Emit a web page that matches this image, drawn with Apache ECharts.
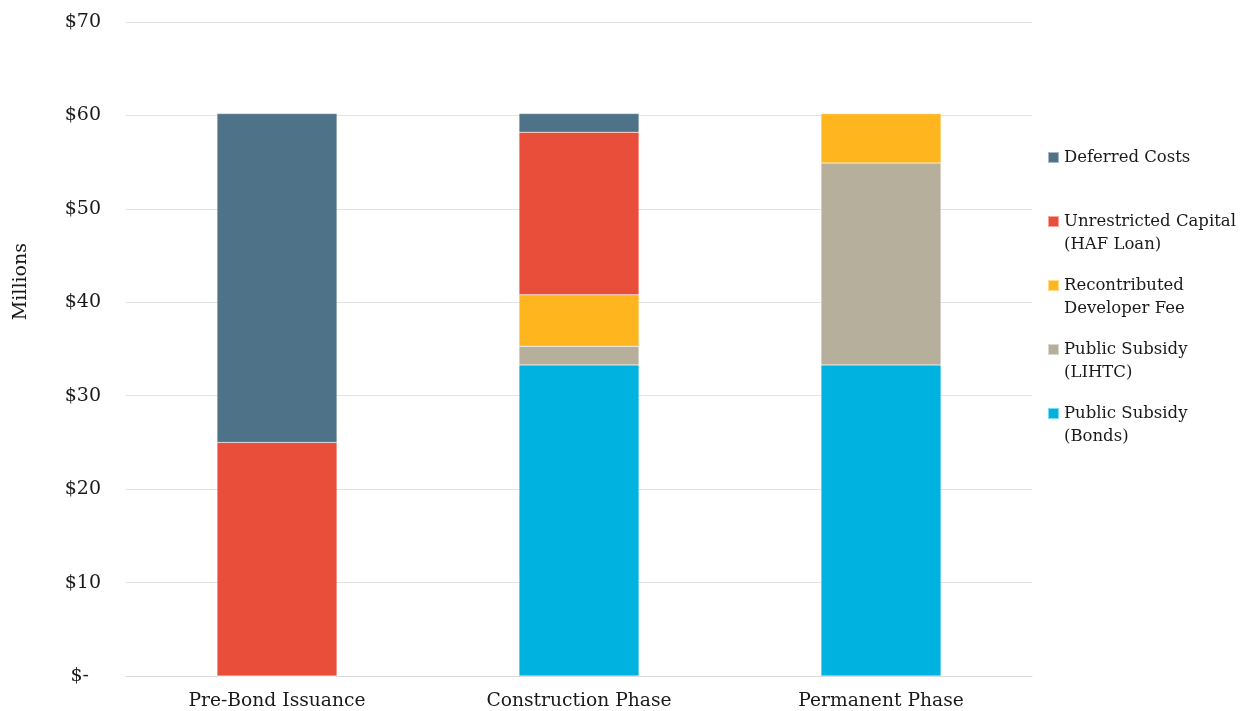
<!DOCTYPE html>
<html>
<head>
<meta charset="utf-8">
<title>Funding sources by phase</title>
<script src="https://cdn.jsdelivr.net/npm/echarts@6/dist/echarts.min.js"></script>
<style>
  html, body { margin: 0; padding: 0; background: #fff; }
  #chart { width: 1244px; height: 711px; }
</style>
</head>
<body>
<div id="chart"></div>
<script>
// phases along the x axis
const categories = ['Pre-Bond Issuance', 'Construction Phase', 'Permanent Phase'];

// values in $ millions, stacked bottom to top
const bonds = [0, 33.3, 33.3];
const lihtc = [0, 2.0, 21.6];
const devFee = [0, 5.5, 5.3];
const hafLoan = [25.0, 17.4, 0];
const deferred = [35.2, 2.0, 0];

const yTicks = [0, 10, 20, 30, 40, 50, 60, 70];

const fontFamily = 'DejaVu Serif, Liberation Serif, serif';
const textColor = '#1a1a1a';
// square at the top of a tall box so the icon sits beside the first text line
const legendIcon = 'path://M0,0H11V11H0Z M0,34H11';

const chart = echarts.init(document.getElementById('chart'));

function bar(name, data, color) {
  return {
    name: name,
    type: 'bar',
    stack: 'total',
    barWidth: 120,
    data: data,
    itemStyle: { color: color, borderColor: 'rgba(255,255,255,0.5)', borderWidth: 0.5 },
    emphasis: { disabled: true }
  };
}

const option = {
  animation: false,
  textStyle: { fontFamily: fontFamily },
  grid: { left: 126, right: 212, top: 22, bottom: 35 },
  legend: {
    orient: 'vertical',
    left: 1042,
    top: 141,
    itemWidth: 11,
    itemHeight: 34,
    itemGap: 18,
    icon: legendIcon,
    data: [
      'Deferred Costs\n ',
      'Unrestricted Capital\n(HAF Loan)',
      'Recontributed\nDeveloper Fee',
      'Public Subsidy\n(LIHTC)',
      'Public Subsidy\n(Bonds)'
    ],
    textStyle: { fontFamily: fontFamily, fontSize: 16.5, color: textColor, lineHeight: 23 }
  },
  xAxis: {
    type: 'category',
    data: categories,
    axisLine: { lineStyle: { color: '#d9d9d9', width: 1 } },
    axisTick: { show: false },
    axisLabel: { fontFamily: fontFamily, fontSize: 18.7, color: textColor, margin: 16 }
  },
  yAxis: {
    type: 'value',
    min: yTicks[0],
    max: yTicks[yTicks.length - 1],
    interval: 10,
    axisLine: { show: false },
    axisTick: { show: false },
    splitLine: { lineStyle: { color: '#e3e3e3', width: 1 } },
    axisLabel: {
      fontFamily: fontFamily,
      fontSize: 19,
      color: textColor,
      margin: 25,
      formatter: v => (v === 0 ? '$-  ' : '$' + v)
    }
  },
  graphic: [{
    type: 'text',
    left: 12,
    top: 243,
    rotation: Math.PI / 2,
    style: { text: 'Millions', font: '19px ' + fontFamily, fill: textColor }
  }],
  series: [
    bar('Public Subsidy\n(Bonds)', bonds, '#00b2e0'),
    bar('Public Subsidy\n(LIHTC)', lihtc, '#b6af9b'),
    bar('Recontributed\nDeveloper Fee', devFee, '#feb51e'),
    bar('Unrestricted Capital\n(HAF Loan)', hafLoan, '#e84e3a'),
    bar('Deferred Costs\n ', deferred, '#4e7389')
  ]
};

chart.setOption(option);
window.addEventListener('resize', chart.resize);
</script>
</body>
</html>
